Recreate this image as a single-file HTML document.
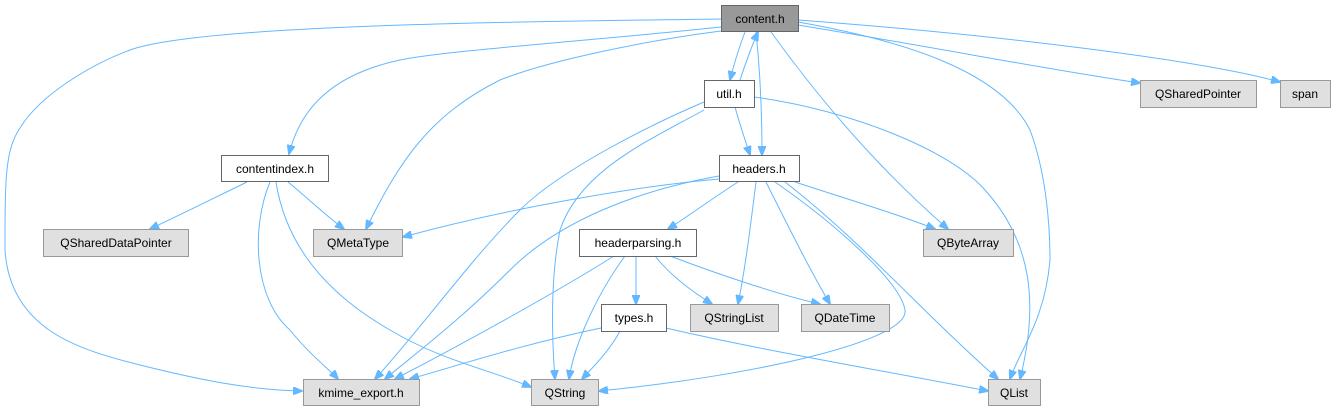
<!DOCTYPE html>
<html><head><meta charset="utf-8"><style>
html,body{margin:0;padding:0;background:#fff;}
svg{display:block;}
text{font-family:"Liberation Sans",Arial,sans-serif;font-size:12px;text-anchor:middle;fill:#000;}
.e{fill:none;stroke:#63b8ff;stroke-width:1;}
.w{fill:#fff;stroke:#666;}
.g{fill:#e0e0e0;stroke:#999;}
</style></head><body>
<svg width="1334" height="411" viewBox="0 0 1334 411" xmlns="http://www.w3.org/2000/svg">
<defs><marker id="a" markerWidth="10" markerHeight="8" refX="9" refY="4" orient="auto" markerUnits="userSpaceOnUse"><path d="M0,0 L10,4 L0,8 z" fill="#63b8ff" stroke="#63b8ff"/></marker></defs>
<g class="e" marker-end="url(#a)">
<!-- content.h edges -->
<path d="M721,19 C500,22 200,25 130,50 C90,65 40,95 20,128 C5,150 5,180 5,250 C10,330 80,350 140,365 C200,380 250,390 302,391"/>
<path d="M721,27 C600,40 450,50 400,60 C330,75 300,110 289,154"/>
<path d="M721,31 C650,40 550,60 500,80 C430,115 400,160 366,229"/>
<path d="M745,32 C740,45 735,60 730,80"/>
<path d="M756,32 C760,70 762,110 762,155"/>
<path d="M771,32 C820,100 880,170 948,229"/>
<path d="M798,22 C900,40 1000,70 1030,130 C1045,170 1050,220 1050,260 C1045,320 1020,350 1010,379"/>
<path d="M798,25 C950,50 1050,70 1140,83"/>
<path d="M798,20 C1000,35 1200,60 1280,82"/>
<!-- util.h edges -->
<path d="M740,80 C745,65 750,50 758,32"/>
<path d="M735,107 C740,125 745,140 750,155"/>
<path d="M704,102 C650,125 560,170 520,210 C470,260 420,330 375,379"/>
<path d="M704,110 C650,140 580,170 560,230 C550,280 552,340 555,379"/>
<path d="M754,97 C850,110 950,150 985,190 C1030,240 1040,300 1020,379"/>
<!-- headers.h edges -->
<path d="M719,179 C650,185 520,205 403,237"/>
<path d="M719,176 C640,190 560,220 510,270 C460,320 420,350 385,379"/>
<path d="M738,182 C710,200 690,215 668,229"/>
<path d="M756,182 C750,230 745,270 738,304"/>
<path d="M766,182 C790,230 810,270 830,304"/>
<path d="M775,182 C830,220 900,280 905,310 C910,340 760,375 599,391"/>
<path d="M785,182 C860,240 920,310 998,379"/>
<path d="M795,182 C850,200 900,215 935,229"/>
<!-- contentindex.h edges -->
<path d="M247,182 C210,200 180,215 150,229"/>
<path d="M288,182 C310,200 325,215 344,229"/>
<path d="M270,182 C250,230 255,300 290,330 C310,355 330,370 338,379"/>
<path d="M276,182 C285,240 320,290 390,330 C440,360 490,370 531,387"/>
<!-- headerparsing.h edges -->
<path d="M614,256 C560,290 470,340 395,379"/>
<path d="M625,256 C600,290 575,340 569,379"/>
<path d="M636,256 C636,270 636,285 636,304"/>
<path d="M655,256 C670,275 690,290 712,304"/>
<path d="M670,256 C720,275 780,295 820,304"/>
<!-- types.h edges -->
<path d="M601,328 C520,345 460,365 410,379"/>
<path d="M620,331 C610,350 595,365 582,379"/>
<path d="M666,328 C760,350 880,370 988,391"/>
</g>
<!-- nodes -->
<rect x="721.5" y="5.5" width="77" height="26" fill="#999" stroke="#666"/><text x="760" y="23">content.h</text>
<rect class="w" x="704.5" y="80.5" width="50" height="27"/><text x="729" y="98">util.h</text>
<rect class="w" x="719.5" y="155.5" width="80" height="26"/><text x="759" y="173">headers.h</text>
<rect class="w" x="221.5" y="155.5" width="107" height="26"/><text x="275" y="173">contentindex.h</text>
<rect class="g" x="43.5" y="229.5" width="145" height="27"/><text x="116" y="247">QSharedDataPointer</text>
<rect class="g" x="313.5" y="229.5" width="89" height="27"/><text x="358" y="247">QMetaType</text>
<rect class="w" x="579.5" y="229.5" width="117" height="27"/><text x="638" y="247">headerparsing.h</text>
<rect class="g" x="923.5" y="229.5" width="90" height="27"/><text x="968" y="247">QByteArray</text>
<rect class="w" x="601.5" y="304.5" width="65" height="27"/><text x="634" y="322">types.h</text>
<rect class="g" x="690.5" y="304.5" width="88" height="27"/><text x="734" y="322">QStringList</text>
<rect class="g" x="801.5" y="304.5" width="88" height="27"/><text x="845" y="322">QDateTime</text>
<rect class="g" x="303.5" y="379.5" width="116" height="26"/><text x="361" y="397">kmime_export.h</text>
<rect class="g" x="531.5" y="379.5" width="67" height="26"/><text x="565" y="397">QString</text>
<rect class="g" x="988.5" y="379.5" width="52" height="26"/><text x="1014" y="397">QList</text>
<rect class="g" x="1140.5" y="80.5" width="116" height="27"/><text x="1198" y="98">QSharedPointer</text>
<rect class="g" x="1280.5" y="80.5" width="50" height="27"/><text x="1305" y="98">span</text>
</svg>
</body></html>
